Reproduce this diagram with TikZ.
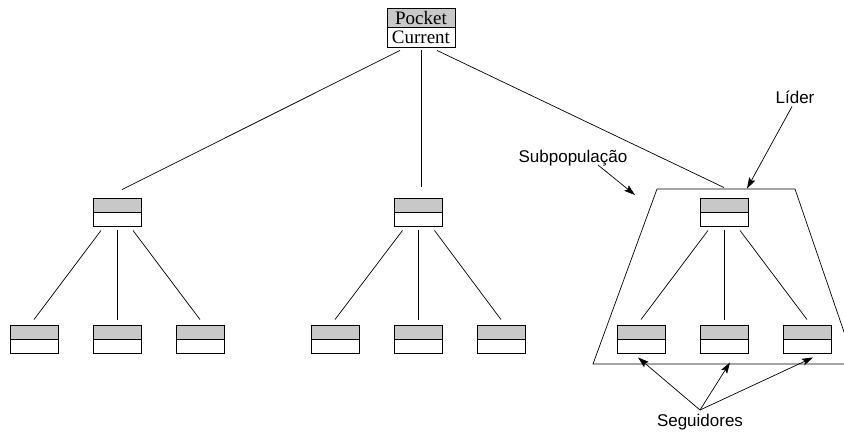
\documentclass[tikz,border=0pt]{standalone}
\usepackage{fontspec}
\setmainfont{Liberation Serif}
\newfontfamily\labelfont{Liberation Sans}
\usetikzlibrary{arrows.meta}
\definecolor{cellgray}{RGB}{200,200,200}
\tikzset{
  cell/.style={draw=black, line width=0.9pt, fill=white, inner sep=0pt,
    minimum width=48pt, minimum height=28pt,
    path picture={
      \fill[cellgray] (path picture bounding box.north west) rectangle (path picture bounding box.east);
      \draw[line width=0.9pt] (path picture bounding box.west) -- (path picture bounding box.east);
    }},
  rootcell/.style={cell, minimum width=68pt, minimum height=39pt},
  link/.style={line width=0.7pt},
  pointer/.style={line width=0.7pt, -{Stealth[length=11pt,width=7pt,inset=2pt]}},
  tag/.style={font=\labelfont\fontsize{17}{19}\selectfont, inner sep=0pt},
  rootlabel/.style={font=\fontsize{19}{21}\selectfont, inner sep=0pt}
}
\begin{document}
\begin{tikzpicture}[x=1pt, y=-1pt]
\useasboundingbox (0,0) rectangle (844,434);

% root individual with pocket and current parts
\node[rootcell] (root) at (421,27.5) {};
\node[rootlabel] (pocket) at ([yshift=9.5pt]root.center) {Pocket};
\node[rootlabel] (current) at ([yshift=-9.5pt]root.center) {Current};

% leaders of the three subpopulations
\node[cell] (ma) at (117,212) {};
\node[cell] (mb) at (418.5,212) {};
\node[cell] (mc) at (724,212) {};

% followers
\node[cell] (a1) at (34,339) {};
\node[cell] (a2) at (117,339) {};
\node[cell] (a3) at (200,339) {};
\node[cell] (b1) at (335,339) {};
\node[cell] (b2) at (418.5,339) {};
\node[cell] (b3) at (501,339) {};
\node[cell] (c1) at (641,339) {};
\node[cell] (c2) at (724,339) {};
\node[cell] (c3) at (807,339) {};

% root to leaders
\draw[link] ([xshift=-21pt,yshift=-3pt]root.south) -- ([xshift=5pt,yshift=8pt]ma.north);
\draw[link] ([yshift=-3pt]root.south) -- ([xshift=2.5pt,yshift=11pt]mb.north);
\draw[link] ([xshift=16pt,yshift=-3pt]root.south) -- ([yshift=10pt]mc.north);

% leaders to followers
\foreach \m/\p/\q/\r in {ma/a1/a2/a3, mb/b1/b2/b3, mc/c1/c2/c3}{
  \draw[link] ([xshift=-16pt,yshift=-4pt]\m.south) -- ([yshift=5pt]\p.north);
  \draw[link] ([yshift=-4pt]\m.south) -- ([yshift=5pt]\q.north);
  \draw[link] ([xshift=16pt,yshift=-4pt]\m.south) -- ([yshift=5pt]\r.north);
}

% subpopulation outline
\draw[link] (657,189) -- (795,189) -- (855,364) -- (593,364) -- cycle;

% annotations
\node[tag] (lider) at (795,97) {Líder};
\node[tag] (subpop) at (573,158) {Subpopulação};
\node[tag] (seg) at (700,422) {Seguidores};

\coordinate (subtip) at (635,195);
\coordinate (subfrom) at (598,165);
\coordinate (segfrom) at (700,410);

\draw[pointer] ([xshift=-3pt,yshift=-3pt]lider.south) -- ([xshift=23pt,yshift=9pt]mc.north);
\draw[pointer] (subfrom) -- (subtip);
\draw[pointer] (segfrom) -- ([xshift=-3pt,yshift=-4pt]c1.south);
\draw[pointer] (segfrom) -- ([xshift=6pt,yshift=-9pt]c2.south);
\draw[pointer] (segfrom) -- ([xshift=6pt,yshift=-4pt]c3.south);
\end{tikzpicture}
\end{document}
